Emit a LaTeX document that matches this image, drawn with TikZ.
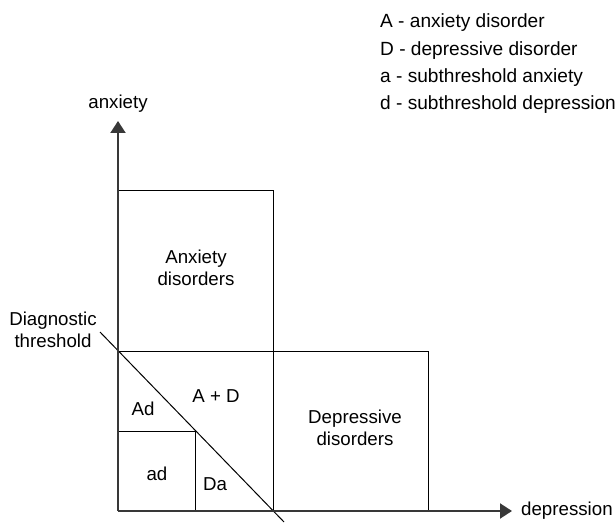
\documentclass[tikz,border=0pt]{standalone}
\usepackage{fontspec}
\setmainfont{Liberation Sans}
\usetikzlibrary{arrows.meta}
\begin{document}
\begin{tikzpicture}[x=1pt,y=-1pt,
  lbl/.style={font=\fontsize{18.7}{22.4}\selectfont, inner sep=0pt, align=center},
  legend/.style={font=\fontsize{19.1}{23}\selectfont, inner sep=0pt, anchor=base west},
  boxline/.style={draw=black, line width=1pt},
  axisline/.style={draw=black!78, line width=2pt, -{Triangle[length=12pt,width=15pt]}},
  thresh/.style={draw=black, line width=1pt}]
\useasboundingbox (0,0) rectangle (616,524);
% coordinates
\coordinate (O) at (118,511);
\coordinate (Ytip) at (118,121);
\coordinate (Xtip) at (512,511);
\coordinate (T1) at (100,332);
\coordinate (T2) at (284,522);
% boxes
\draw[boxline] (118,351) rectangle (273,190);
\draw[boxline] (273,351) rectangle (428,511);
\draw[boxline] (118,351) -- (273,351) -- (273,511);
\draw[boxline] (118,431) -- (195,431) -- (195,511);
% threshold line
\draw[thresh] (T1) -- (T2);
% axes
\draw[axisline] (O) -- (Ytip);
\draw[axisline] (O) -- (Xtip);
% axis labels
\node[lbl] (ylab) at (118,104) {anxiety};
\node[lbl, anchor=west] (xlab) at (521,511) {depression};
% region labels
\node[lbl] (anx) at (196,268) {Anxiety\\disorders};
\node[lbl] (dep) at (355,428) {Depressive\\disorders};
\node[lbl] (diag) at (53,330) {Diagnostic\\threshold};
\node[lbl] (Ad) at (143,409) {Ad};
\node[lbl] (AD) at (216,396) {A + D};
\node[lbl] (ad) at (157,474) {ad};
\node[lbl] (Da) at (215,484) {Da};
% legend
\node[legend] (l1) at (380,28) {A - anxiety disorder};
\node[legend] (l2) at (380,55.3) {D - depressive disorder};
\node[legend] (l3) at (380,82.7) {a - subthreshold anxiety};
\node[legend] (l4) at (380,110) {d - subthreshold depression};
\end{tikzpicture}
\end{document}
